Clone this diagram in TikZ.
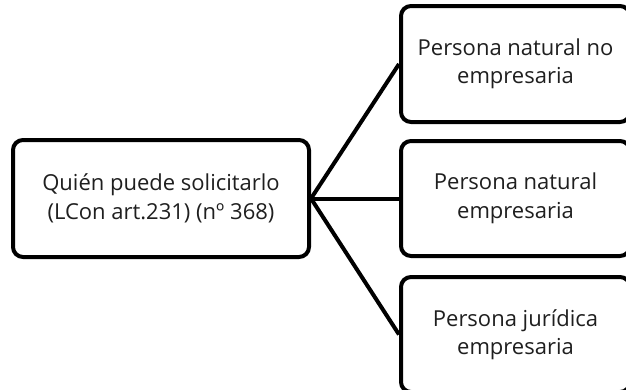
\documentclass[tikz,border=0pt]{standalone}
\usepackage{fontspec}
\setmainfont{Open Sans}
\begin{document}
\begin{tikzpicture}[x=1pt,y=-1pt,
  box/.style={draw=black, line width=4pt, rounded corners=10pt, fill=white,
    inner sep=0pt, align=center, text=black!88,
    font=\fontsize{22}{28.5}\selectfont},
  conn/.style={draw=black, line width=4pt}]
\useasboundingbox (0,0) rectangle (626,389);
\node[box, minimum width=296pt, minimum height=117pt] (src) at (161,198.5)
  {Quién puede solicitarlo\\(LCon art.231) (nº 368)};
\node[box, minimum width=229pt, minimum height=116pt] (t1) at (515.5,64)
  {Persona natural no\\empresaria};
\node[box, minimum width=229pt, minimum height=115pt] (t2) at (515.5,198.5)
  {Persona natural\\empresaria};
\node[box, minimum width=229pt, minimum height=115pt] (t3) at (515.5,334.5)
  {Persona jurídica\\empresaria};
\draw[conn] (src.east) -- (t1.west);
\draw[conn] (src.east) -- (t2.west);
\draw[conn] (src.east) -- (t3.west);
\end{tikzpicture}
\end{document}
